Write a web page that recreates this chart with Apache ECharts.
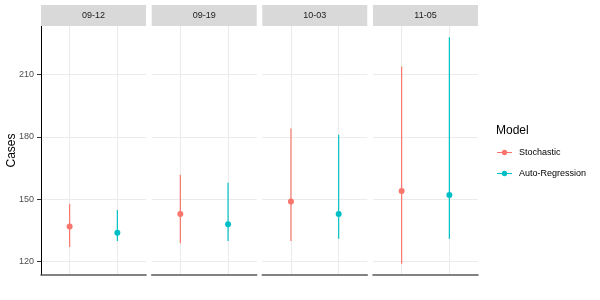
<!DOCTYPE html>
<html><head><meta charset="utf-8">
<script src="https://cdn.jsdelivr.net/npm/echarts@6/dist/echarts.min.js"></script>
<style>html,body{margin:0;padding:0;background:#fff}#c{width:600px;height:300px}</style>
</head><body><div id="c"></div>
<script>
const dates = ['09-12', '09-19', '10-03', '11-05'];
const models = ['Stochastic', 'Auto-Regression'];
const stochMean = [136.8, 142.9, 148.9, 153.9];
const stochLow  = [126.9, 128.8, 129.8, 118.9];
const stochHigh = [147.8, 161.8, 184.0, 213.9];
const arMean = [133.8, 137.9, 142.9, 152.0];
const arLow  = [129.8, 129.8, 130.9, 130.9];
const arHigh = [144.8, 157.9, 181.0, 228.0];
const colors = ['#F8766D', '#00BFC4'];

const means = [stochMean, arMean], lows = [stochLow, arLow], highs = [stochHigh, arHigh];
const allVals = [].concat(stochLow, stochHigh, arLow, arHigh);
const dMin = Math.min.apply(null, allVals), dMax = Math.max.apply(null, allVals);
const pad = (dMax - dMin) * 0.05;
const yMin = dMin - pad, yMax = dMax + pad;

const FONT = 'Liberation Sans';
const lefts = [41, 151.7, 262.3, 373];
const W = 105;

const grids = [], xAxes = [], yAxes = [], series = [];
dates.forEach((d, i) => {
  grids.push({left: lefts[i], width: W, top: 26, bottom: 25, containLabel: false});
  xAxes.push({
    type: 'value', gridIndex: i, min: 0.4, max: 2.6, splitNumber: 2,
    axisLine: {show: true, onZero: false, lineStyle: {color: '#5a5a5a', width: 1.6}},
    axisTick: {show: false}, axisLabel: {show: false},
    splitLine: {show: true, showMinLine: false, showMaxLine: false, lineStyle: {color: '#ebebeb', width: 1}}
  });
  xAxes.push({
    type: 'category', gridIndex: i, position: 'top', data: [d],
    axisLine: {show: false}, axisTick: {show: false}, splitLine: {show: false},
    axisLabel: {show: true, margin: 0, backgroundColor: '#d9d9d9', width: W, height: 21,
      lineHeight: 21, align: 'center', color: '#1a1a1a', fontSize: 9, fontFamily: FONT}
  });
  yAxes.push({
    type: 'value', gridIndex: i, min: yMin, max: yMax, splitNumber: 4,
    name: i === 0 ? 'Cases' : '', nameLocation: 'middle', nameGap: 23, nameMoveOverlap: false,
    nameTextStyle: {color: '#000', fontSize: 12, fontFamily: FONT},
    axisLine: {show: i === 0, lineStyle: {color: '#000', width: 1}},
    axisTick: {show: i === 0, length: 4, lineStyle: {color: '#333'}},
    axisLabel: {show: i === 0, showMinLabel: false, showMaxLabel: false, margin: 7,
      color: '#4d4d4d', fontSize: 9, fontFamily: FONT},
    splitLine: {show: true, showMinLine: false, showMaxLine: false, lineStyle: {color: '#ebebeb', width: 1}}
  });
  models.forEach((m, k) => {
    series.push({
      name: m, type: 'custom', xAxisIndex: 2 * i, yAxisIndex: i,
      data: [[k + 1, lows[k][i], highs[k][i]]],
      encode: {x: 0, y: [1, 2]},
      itemStyle: {color: colors[k]},
      renderItem: function (params, api) {
        const x = api.value(0);
        const p1 = api.coord([x, api.value(1)]);
        const p2 = api.coord([x, api.value(2)]);
        return {type: 'line', shape: {x1: p1[0], y1: p1[1], x2: p2[0], y2: p2[1]},
          style: {stroke: colors[k], lineWidth: 1.2}};
      },
      z: 3, silent: true
    });
    series.push({
      name: m, type: 'scatter', xAxisIndex: 2 * i, yAxisIndex: i,
      data: [[k + 1, means[k][i]]], symbol: 'circle', symbolSize: 6,
      itemStyle: {color: colors[k], opacity: 1}, z: 4, silent: true
    });
  });
});

const icon = 'path://M0,2.5h17v1h-17z M8.5,0a3,3 0 1,1 0,6a3,3 0 1,1 0,-6z';
const chart = echarts.init(document.getElementById('c'), null, {renderer: 'canvas'});
chart.setOption({
  backgroundColor: '#fff', animation: false,
  title: {text: 'Model', left: 496, top: 125, padding: 0,
    textStyle: {fontSize: 12, fontWeight: 'normal', color: '#000', fontFamily: FONT}},
  legend: {
    orient: 'vertical', left: 497, top: 148, padding: 0, itemGap: 12,
    itemWidth: 15, itemHeight: 6, selectedMode: false,
    data: models.map((m, k) => ({name: m, icon: icon, itemStyle: {color: colors[k]}})),
    textStyle: {fontSize: 9, color: '#000', fontFamily: FONT, padding: [0, 0, 0, 2]}
  },
  grid: grids, xAxis: xAxes, yAxis: yAxes, series: series
});
</script></body></html>
